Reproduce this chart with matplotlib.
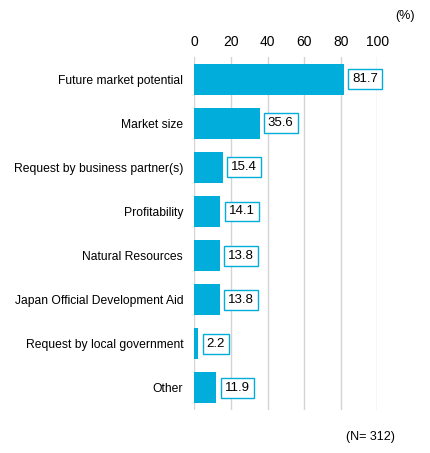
import matplotlib.pyplot as plt

# ----- Chart data -----
categories = [
    'Future market potential',
    'Market size',
    'Request by business partner(s)',
    'Profitability',
    'Natural Resources',
    'Japan Official Development Aid',
    'Request by local government',
    'Other',
]
values = [81.7, 35.6, 15.4, 14.1, 13.8, 13.8, 2.2, 11.9]
x_ticks = [0, 20, 40, 60, 80, 100]

BAR_COLOR = '#00ADDB'

plt.rcParams['font.family'] = ['Liberation Sans', 'DejaVu Sans']


def main():
    fig = plt.figure(figsize=(4.30, 4.53), dpi=100)
    ax = fig.add_axes([0.452, 0.095, 0.4256, 0.779])

    ypos = list(range(len(categories)))
    ax.barh(ypos, values, height=0.7, color=BAR_COLOR, zorder=2)

    # value labels in boxes
    for y, v in zip(ypos, values):
        ax.text(v + 4.6, y, f'{v:.1f}', va='center', ha='left', fontsize=9.5,
                color='black', clip_on=False, zorder=3,
                bbox=dict(boxstyle='square,pad=0.3', facecolor='white',
                          edgecolor=BAR_COLOR, linewidth=1.0))

    ax.set_xlim(0, 100)
    ax.set_ylim(len(categories) - 0.5, -0.5)
    ax.set_yticks(ypos)
    ax.set_yticklabels(categories, fontsize=8.7)
    ax.set_xticks(x_ticks)
    ax.xaxis.tick_top()
    ax.tick_params(axis='x', length=0, pad=5.5, labelsize=10)
    ax.tick_params(axis='y', length=0, pad=8)
    ax.grid(axis='x', color='#D4D4D4', linewidth=1.0, zorder=0)
    ax.set_axisbelow(True)
    for s in ax.spines.values():
        s.set_visible(False)

    fig.text(405 / 430, 1 - 16 / 453, '(%)', ha='center', va='center', fontsize=9)
    fig.text(370 / 430, 1 - 437 / 453, '(N= 312)', ha='center', va='center', fontsize=9)

    fig.savefig('out.png', dpi=100)


if __name__ == '__main__':
    main()
